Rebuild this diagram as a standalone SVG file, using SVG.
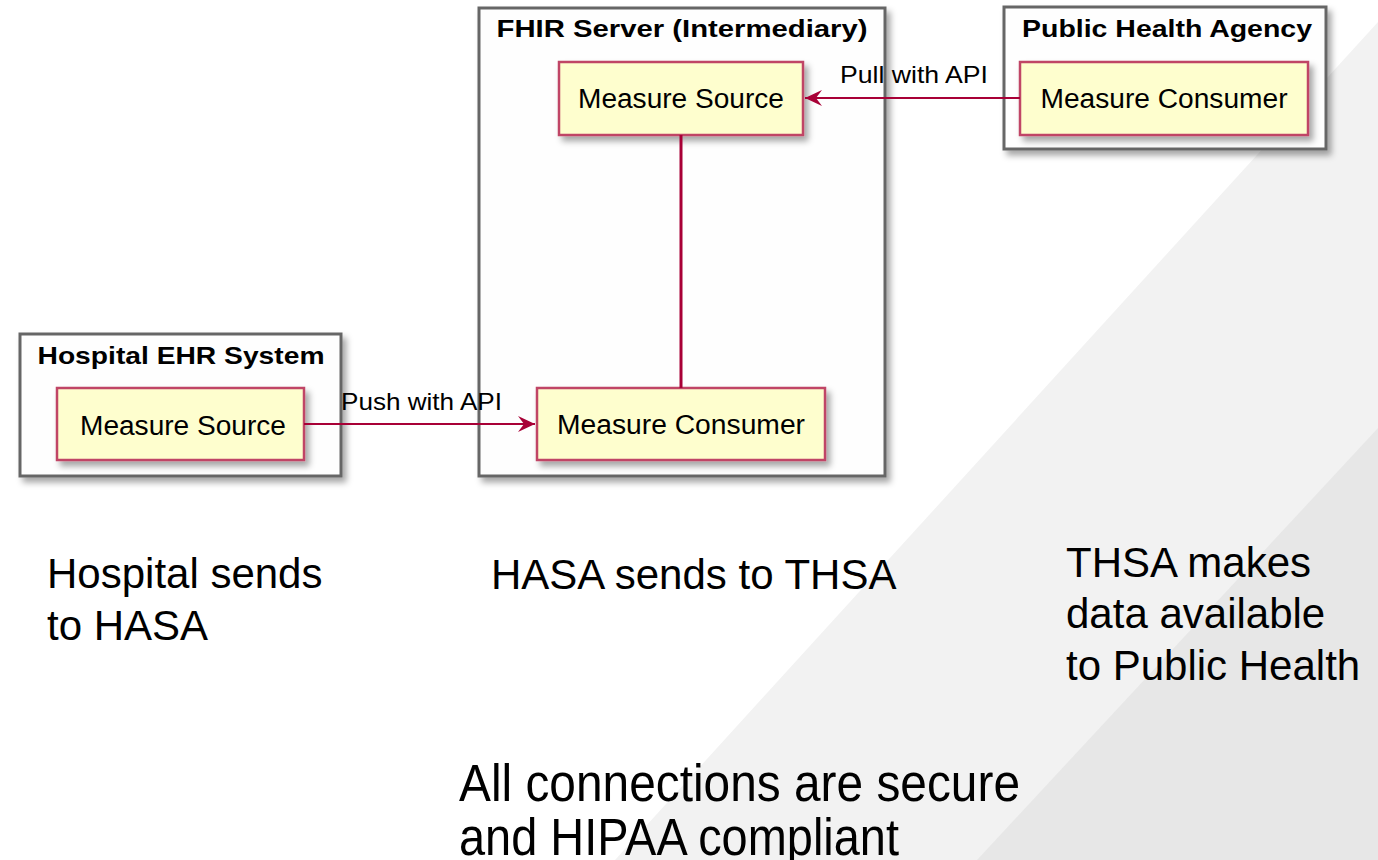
<svg xmlns="http://www.w3.org/2000/svg" width="1378" height="860" viewBox="0 0 1378 860">
  <defs>
    <filter id="sh" x="-10%" y="-10%" width="130%" height="140%">
      <feDropShadow dx="4" dy="5" stdDeviation="3" flood-color="#000" flood-opacity="0.35"/>
    </filter>
    <marker id="arr" viewBox="0 0 18 16" refX="17" refY="8" markerWidth="18" markerHeight="16" markerUnits="userSpaceOnUse" orient="auto">
      <path d="M0,0 L17,8 L0,16 L6,8 Z" fill="#A80036"/>
    </marker>
  </defs>
  <style>
    .cont { fill: #fefefe; stroke: #666; stroke-width: 3; }
    .node { fill: #fefece; stroke: #c04466; stroke-width: 2.5; }
    .title { font-family: "Liberation Sans", Arial, sans-serif; font-weight: bold; font-size: 24px; fill: #000; text-anchor: middle; }
    .lbl { font-family: "Liberation Sans", Arial, sans-serif; font-size: 27px; fill: #000; text-anchor: middle; }
    .elbl { font-family: "Liberation Sans", Arial, sans-serif; font-size: 24px; fill: #000; }
    .big { font-family: "Liberation Sans", Arial, sans-serif; font-size: 42px; fill: #000; }
    .huge { font-family: "Liberation Sans", Arial, sans-serif; font-size: 51px; fill: #000; }
    .edge { stroke: #A80036; fill: none; }
  </style>

  <rect x="0" y="0" width="1378" height="860" fill="#ffffff"/>
  <polygon points="1378,22 1378,860 615,860" fill="#f2f2f2"/>
  <polygon points="1378,428 1378,860 977,860" fill="#e7e7e7"/>

  <g id="fhir-server">
    <rect class="cont" x="479" y="8" width="406" height="468" filter="url(#sh)"/>
    <text class="title" x="682" y="37" textLength="371" lengthAdjust="spacingAndGlyphs">FHIR Server (Intermediary)</text>
  </g>
  <g id="public-health-agency">
    <rect class="cont" x="1004" y="7" width="322" height="142" filter="url(#sh)"/>
    <text class="title" x="1167" y="37" textLength="290" lengthAdjust="spacingAndGlyphs">Public Health Agency</text>
  </g>
  <g id="hospital-ehr">
    <rect class="cont" x="20" y="334" width="321" height="142" filter="url(#sh)"/>
    <text class="title" x="181" y="364" textLength="287" lengthAdjust="spacingAndGlyphs">Hospital EHR System</text>
  </g>

  <g id="fhir-measure-source">
    <rect class="node" x="559" y="62" width="244" height="73" filter="url(#sh)"/>
    <text class="lbl" x="681" y="108" textLength="206" lengthAdjust="spacingAndGlyphs">Measure Source</text>
  </g>
  <g id="fhir-measure-consumer">
    <rect class="node" x="537" y="388" width="288" height="72" filter="url(#sh)"/>
    <text class="lbl" x="681" y="434" textLength="248" lengthAdjust="spacingAndGlyphs">Measure Consumer</text>
  </g>
  <g id="pha-measure-consumer">
    <rect class="node" x="1020" y="62" width="288" height="73" filter="url(#sh)"/>
    <text class="lbl" x="1164" y="108" textLength="247" lengthAdjust="spacingAndGlyphs">Measure Consumer</text>
  </g>
  <g id="hospital-measure-source">
    <rect class="node" x="57" y="388" width="247" height="72" filter="url(#sh)"/>
    <text class="lbl" x="183" y="435" textLength="206" lengthAdjust="spacingAndGlyphs">Measure Source</text>
  </g>

  <g id="connectors">
    <line class="edge" x1="1020" y1="98" x2="805" y2="98" stroke-width="2" marker-end="url(#arr)"/>
    <text class="elbl" x="840" y="83" textLength="148" lengthAdjust="spacingAndGlyphs">Pull with API</text>
    <line class="edge" x1="681" y1="135" x2="681" y2="388" stroke-width="3"/>
    <line class="edge" x1="304" y1="424" x2="535" y2="424" stroke-width="2" marker-end="url(#arr)"/>
    <text class="elbl" x="341" y="410" textLength="161" lengthAdjust="spacingAndGlyphs">Push with API</text>
  </g>

  <g id="notes">
    <text class="big" x="47" y="588">Hospital sends</text>
    <text class="big" x="47" y="640">to HASA</text>
    <text class="big" x="491" y="589">HASA sends to THSA</text>
    <text class="big" x="1066" y="577">THSA makes</text>
    <text class="big" x="1066" y="628">data available</text>
    <text class="big" x="1066" y="680">to Public Health</text>
    <text class="huge" x="459" y="801" textLength="561" lengthAdjust="spacingAndGlyphs">All connections are secure</text>
    <text class="huge" x="459" y="855" textLength="440" lengthAdjust="spacingAndGlyphs">and HIPAA compliant</text>
  </g>
</svg>
